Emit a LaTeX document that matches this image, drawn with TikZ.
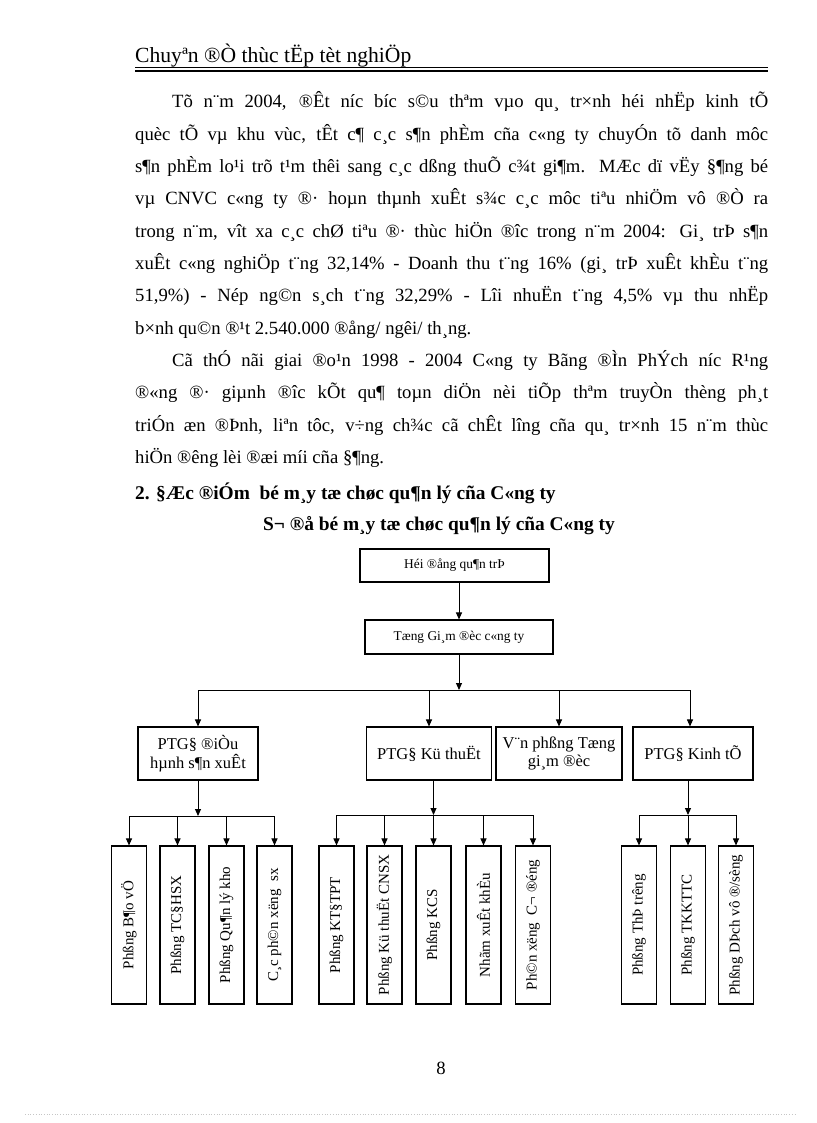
\documentclass[tikz,border=0pt]{standalone}
\usepackage{fontspec}
\setmainfont{Liberation Serif}
\usetikzlibrary{arrows.meta}
\begin{document}
\begin{tikzpicture}[x=1pt,y=-1pt,
 body/.style={anchor=base west,inner sep=0,font=\fontsize{18.67}{22}\selectfont},
 bodyb/.style={body,font=\fontsize{19.4}{22}\selectfont\bfseries},
 box/.style={draw,line width=1.1pt,inner sep=0,align=center},
 hbox/.style={box,font=\fontsize{13.4}{16}\selectfont},
 mbox/.style={box,minimum height=53pt,font=\fontsize{16.5}{18.5}\selectfont},
 vbox/.style={box,minimum width=35pt,minimum height=158pt},
 vtxt/.style={rotate=90,inner sep=0,font=\fontsize{15}{17}\selectfont},
 arr/.style={line width=1pt,-{Triangle[length=7pt,width=6pt]}},
 ln/.style={line width=1pt}]
\useasboundingbox (0,0) rectangle (816,1123);
% header
\node[body,font=\fontsize{21.6}{24}\selectfont] (hdr) at (135,63) {Chuyªn ®Ò thùc tËp tèt nghiÖp};
\draw[line width=1.1pt] (135,67.5) -- (768,67.5);
\draw[line width=1.1pt] (135,71) -- (768,71);
% paragraph 1
\node[body] (l1) at (172,108) {\makebox[596pt][s]{Tõ n¨m 2004, ®Êt níc bíc s©u thªm vµo qu¸ tr×nh héi nhËp kinh tÕ}};
\node[body] (l2) at (135,140.3) {\makebox[633pt][s]{quèc tÕ vµ khu vùc, tÊt c¶ c¸c s¶n phÈm cña c«ng ty chuyÓn tõ danh môc}};
\node[body] (l3) at (135,172.6) {\makebox[633pt][s]{s¶n phÈm lo¹i trõ t¹m thêi sang c¸c dßng thuÕ c¾t gi¶m. MÆc dï vËy §¶ng bé}};
\node[body] (l4) at (135,204.9) {\makebox[633pt][s]{vµ CNVC c«ng ty ®· hoµn thµnh xuÊt s¾c c¸c môc tiªu nhiÖm vô ®Ò ra}};
\node[body] (l5) at (135,237.2) {\makebox[633pt][s]{trong n¨m, vît xa c¸c chØ tiªu ®· thùc hiÖn ®îc trong n¨m 2004: Gi¸ trÞ s¶n}};
\node[body] (l6) at (135,269.5) {\makebox[633pt][s]{xuÊt c«ng nghiÖp t¨ng 32,14\% - Doanh thu t¨ng 16\% (gi¸ trÞ xuÊt khÈu t¨ng}};
\node[body] (l7) at (135,301.8) {\makebox[633pt][s]{51,9\%) - Nép ng©n s¸ch t¨ng 32,29\% - Lîi nhuËn t¨ng 4,5\% vµ thu nhËp}};
\node[body] (l8) at (135,334.1) {b×nh qu©n ®¹t 2.540.000 ®ång/ ngêi/ th¸ng.};
% paragraph 2
\node[body] (m1) at (172,366.4) {\makebox[596pt][s]{Cã thÓ nãi giai ®o¹n 1998 - 2004 C«ng ty Bãng ®Ìn PhÝch níc R¹ng}};
\node[body] (m2) at (135,398.7) {\makebox[633pt][s]{®«ng ®· giµnh ®îc kÕt qu¶ toµn diÖn nèi tiÕp thªm truyÒn thèng ph¸t}};
\node[body] (m3) at (135,431) {\makebox[633pt][s]{triÓn æn ®Þnh, liªn tôc, v÷ng ch¾c cã chÊt lîng cña qu¸ tr×nh 15 n¨m thùc}};
\node[body] (m4) at (135,463.3) {hiÖn ®êng lèi ®æi míi cña §¶ng.};
% headings
\node[bodyb] (h2) at (135,499) {2. §Æc ®iÓm \ bé m¸y tæ chøc qu¶n lý cña C«ng ty};
\node[bodyb,anchor=base] (ttl) at (439,530) {S¬ ®å bé m¸y tæ chøc qu¶n lý cña C«ng ty};
% chart
\node[hbox,minimum width=189pt,minimum height=33pt] (hdqt) at (454.5,565.5) {Héi ®ång qu¶n trÞ};
\node[hbox,minimum width=188pt,minimum height=34pt] (tgd) at (459,637) {Tæng Gi¸m ®èc c«ng ty};
\draw[arr] (hdqt.south -| tgd.north) -- (tgd.north);
\node[mbox,minimum width=120pt] (p1) at (198,753.5) {PTG§ ®iÒu\\hµnh s¶n xuÊt};
\node[mbox,minimum width=125pt] (p2) at (429,753.5) {PTG§ Kü thuËt};
\node[mbox,minimum width=126pt] (p3) at (559,753.5) {V¨n phßng Tæng\\gi¸m ®èc};
\node[mbox,minimum width=120pt] (p4) at (693,753.5) {PTG§ Kinh tÕ};
\coordinate (bus1) at (tgd.south |- 0,690);
\draw[arr] (tgd.south) -- (bus1);
\draw[ln] (p1.north |- bus1) -- (690,690) coordinate (bend);
\foreach \n in {p1,p2,p3} \draw[arr] (\n.north |- bus1) -- (\n.north);
\draw[arr] (bend) -- (bend |- p4.north);
% level 3 boxes
\foreach \n/\x/\t in {a1/129/{Phßng B¶o vÖ},a2/177.5/{Phßng TC§HSX},a3/226.5/{Phßng Qu¶n lý kho},a4/274.5/{C¸c ph©n xëng \ sx},
  b1/336.5/{Phßng KT§TPT},b2/384.5/{Phßng Kü thuËt CNSX},b3/433.5/{Phßng KCS},b4/483.5/{Nhãm xuÊt khÈu},b5/533/{Ph©n xëng \ C¬ ®éng},
  c1/639/{Phßng ThÞ trêng},c2/688/{Phßng TKKTTC},c3/736/{Phßng DÞch vô ®/sèng}}{
  \node[vbox] (\n) at (\x,925) {};
  \node[vtxt] (\n t) at (\n.center) {\t};
}
\coordinate (busa) at (p1.south |- 0,816);
\draw[arr] (p1.south) -- (busa);
\draw[ln] (a1.north |- busa) -- (a4.north |- busa);
\foreach \n in {a1,a2,a3,a4} \draw[arr] (\n.north |- busa) -- (\n.north);
\coordinate (busb) at (b3.north |- 0,815);
\draw[arr] (p2.south -| b3.north) -- (busb);
\draw[ln] (b1.north |- busb) -- (b5.north |- busb);
\foreach \n in {b1,b2,b3,b4,b5} \draw[arr] (\n.north |- busb) -- (\n.north);
\coordinate (busc) at (c2.north |- 0,815);
\draw[arr] (p4.south -| c2.north) -- (busc);
\draw[ln] (c1.north |- busc) -- (c3.north |- busc);
\foreach \n in {c1,c2,c3} \draw[arr] (\n.north |- busc) -- (\n.north);
% page number
\node[body,anchor=base] (pg) at (441,1074) {8};
\draw[gray!45,dotted,line width=0.7pt] (25,1114) -- (795,1114);
\end{tikzpicture}
\end{document}
